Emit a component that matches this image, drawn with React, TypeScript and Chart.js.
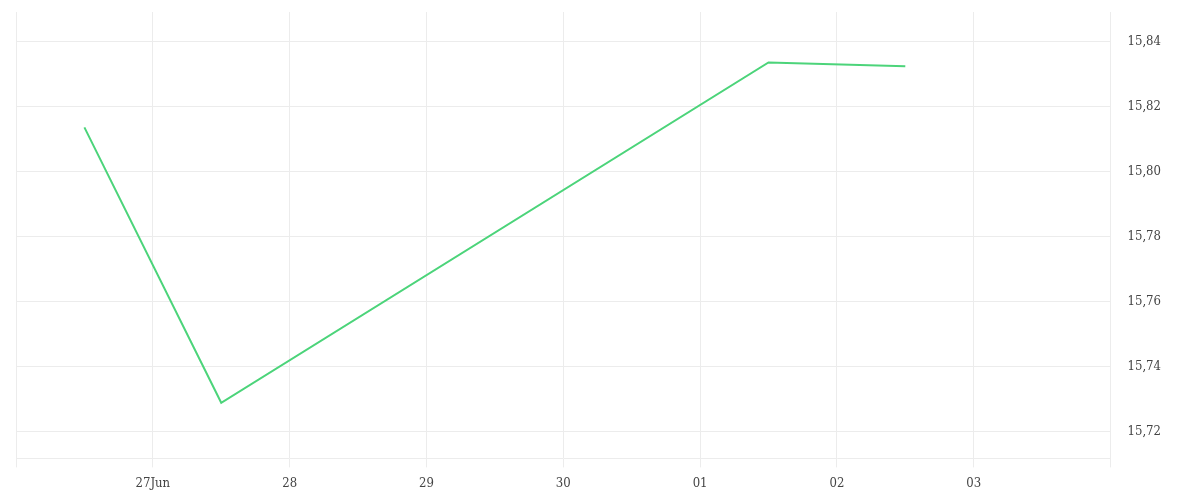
import React, { useEffect, useRef } from "react";
import { Chart, registerables } from "chart.js";

Chart.register(...registerables);

// x values are days since 26 Jun 00:00
const dayLabels = ["", "27Jun", "28", "29", "30", "01", "02", "03", ""];
const pointDays = [0.5, 1.5, 5.5, 6.5];
const pointValues = [15.8135, 15.7288, 15.8335, 15.8323];
const yTicks = [15.72, 15.74, 15.76, 15.78, 15.8, 15.82, 15.84];

export default function App() {
  const ref = useRef<HTMLCanvasElement | null>(null);
  useEffect(() => {
    if (!ref.current) return;
    const font = { family: "'DejaVu Serif Condensed', 'DejaVu Serif', serif", size: 13 };
    const chart = new Chart(ref.current, {
      type: "line",
      data: {
        datasets: [
          {
            data: pointDays.map((d, i) => ({ x: d, y: pointValues[i] })),
            borderColor: "#4cd47a",
            borderWidth: 2,
            pointRadius: 0,
            tension: 0,
            fill: false,
          },
        ],
      },
      options: {
        animation: false,
        responsive: true,
        maintainAspectRatio: false,
        layout: { padding: { left: 8, right: 14, top: 4, bottom: 1 } },
        plugins: { legend: { display: false }, tooltip: { enabled: false } },
        scales: {
          x: {
            type: "linear",
            min: 0,
            max: 8,
            afterBuildTicks: (scale: any) => {
              scale.ticks = dayLabels.map((_, i) => ({ value: i }));
            },
            afterFit: (scale: any) => {
              scale.paddingLeft = 0;
              scale.paddingRight = 0;
            },
            ticks: {
              autoSkip: false,
              maxRotation: 0,
              padding: 8,
              color: "#444",
              font,
              callback: (v: any) => dayLabels[Math.round(Number(v))] ?? "",
            },
            grid: { color: "#ececec", tickLength: 9, drawTicks: true, tickColor: "#ececec" },
            border: { color: "#ececec" },
          },
          y: {
            position: "right",
            min: 15.7117,
            max: 15.849,
            afterBuildTicks: (scale: any) => {
              scale.ticks = yTicks.map((v) => ({ value: v }));
            },
            afterFit: (scale: any) => {
              scale.paddingTop = 0;
              scale.paddingBottom = 0;
            },
            ticks: {
              padding: 17,
              color: "#444",
              font,
              callback: (v: any) => Number(v).toFixed(2).replace(".", ","),
            },
            grid: { color: "#ececec", drawTicks: false },
            border: { color: "#ececec" },
          },
        },
      },
    });
    return () => chart.destroy();
  }, []);
  return (
    <div style={{ width: 1184, height: 492 }}>
      <canvas ref={ref} />
    </div>
  );
}
